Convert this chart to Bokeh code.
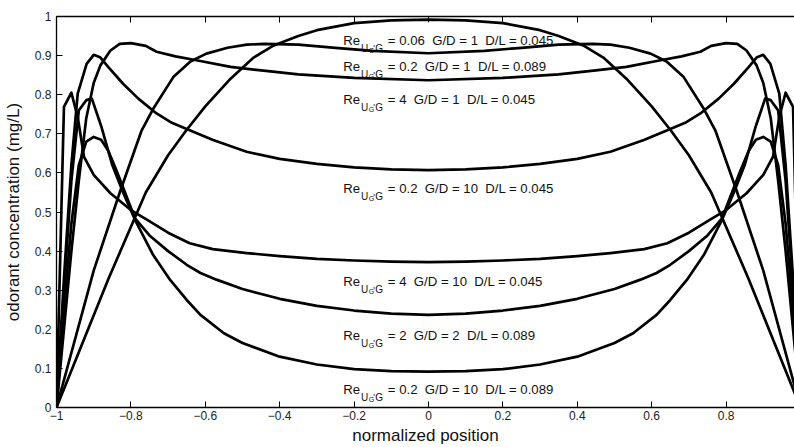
from bokeh.plotting import figure
from bokeh.models import LinearAxis, FixedTicker, CustomJSTickFormatter, Range1d, ColumnDataSource
from bokeh.core.properties import value
from bokeh.embed import file_html
from bokeh.resources import INLINE

FONT = "Liberation Sans"

# ---- data: left half of each (symmetric) profile ----
x_c1 = [-1, -0.93, -0.86, -0.76, -0.7, -0.651, -0.6, -0.532, -0.47, -0.416, -0.35, -0.3, -0.2, -0.1, 0]
y_c1 = [0, 0.165, 0.33, 0.55, 0.645, 0.709, 0.77, 0.841, 0.895, 0.926, 0.95, 0.965, 0.983, 0.99, 0.992]

x_c2 = [-1, -0.9, -0.83, -0.771, -0.74, -0.686, -0.64, -0.597, -0.54, -0.489, -0.44, -0.35, -0.25, -0.15, 0]
y_c2 = [0, 0.35, 0.55, 0.709, 0.764, 0.845, 0.885, 0.905, 0.92, 0.928, 0.93, 0.928, 0.92, 0.912, 0.906]

x_c3 = [-1, -0.98, -0.96, -0.94, -0.92, -0.9, -0.882, -0.855, -0.83, -0.8, -0.76, -0.731, -0.68, -0.624, -0.532, -0.45, -0.35, -0.2, 0]
y_c3 = [0, 0.2, 0.4, 0.58, 0.74, 0.83, 0.875, 0.913, 0.93, 0.932, 0.925, 0.91, 0.898, 0.888, 0.871, 0.862, 0.852, 0.843, 0.837]

x_c4 = [-1, -0.98, -0.96, -0.943, -0.919, -0.9, -0.883, -0.86, -0.821, -0.78, -0.731, -0.69, -0.642, -0.579, -0.489, -0.4, -0.3, -0.2, -0.1, 0]
y_c4 = [0, 0.33, 0.62, 0.803, 0.879, 0.902, 0.896, 0.87, 0.828, 0.79, 0.752, 0.728, 0.709, 0.684, 0.654, 0.636, 0.623, 0.614, 0.609, 0.607]

x_c5 = [-1, -0.98, -0.96, -0.943, -0.926, -0.9, -0.855, -0.8, -0.756, -0.7, -0.642, -0.58, -0.489, -0.4, -0.3, -0.2, -0.1, 0]
y_c5 = [0, 0.769, 0.805, 0.743, 0.641, 0.595, 0.548, 0.505, 0.48, 0.447, 0.42, 0.405, 0.395, 0.387, 0.38, 0.376, 0.373, 0.372]

x_c6 = [-1, -0.98, -0.96, -0.94, -0.92, -0.9, -0.88, -0.86, -0.839, -0.815, -0.789, -0.75, -0.7, -0.65, -0.613, -0.57, -0.5, -0.4, -0.3, -0.2, -0.1, 0]
y_c6 = [0, 0.25, 0.47, 0.62, 0.68, 0.692, 0.685, 0.655, 0.607, 0.548, 0.484, 0.44, 0.4, 0.365, 0.344, 0.327, 0.303, 0.278, 0.26, 0.248, 0.24, 0.237]

x_c7 = [-1, -0.98, -0.96, -0.94, -0.92, -0.905, -0.88, -0.85, -0.821, -0.789, -0.74, -0.695, -0.65, -0.613, -0.55, -0.5, -0.4, -0.3, -0.2, -0.1, 0]
y_c7 = [0, 0.3, 0.58, 0.76, 0.786, 0.79, 0.72, 0.62, 0.55, 0.48, 0.39, 0.327, 0.275, 0.237, 0.19, 0.165, 0.13, 0.11, 0.098, 0.093, 0.092]

# curve labels
label_re = ["0.06", "0.2", "4", "0.2", "4", "2", "0.2"]
label_gd = ["1", "1", "1", "10", "10", "2", "10"]
label_dl = ["0.045", "0.089", "0.045", "0.045", "0.045", "0.089", "0.089"]
label_x = [-0.229] * 7
label_y = [0.939, 0.871, 0.788, 0.559, 0.321, 0.184, 0.046]

x_ticks = [-1, -0.8, -0.6, -0.4, -0.2, 0, 0.2, 0.4, 0.6, 0.8]
y_ticks = [0, 0.1, 0.2, 0.3, 0.4, 0.5, 0.6, 0.7, 0.8, 0.9, 1]


def mirror(xs, ys):
    fx = list(xs) + [-v for v in reversed(xs[:-1])]
    fy = list(ys) + list(reversed(ys[:-1]))
    return fx, fy


p = figure(width=794, height=447, x_range=Range1d(-1, 0.9839), y_range=Range1d(0, 1),
           output_backend="svg", toolbar_location=None,
           min_border_left=56, min_border_right=0, min_border_top=16, min_border_bottom=39)
p.outline_line_color = None
p.xgrid.visible = False
p.ygrid.visible = False
p.background_fill_color = "white"
p.border_fill_color = "white"

fmt = CustomJSTickFormatter(code="""
const r = Math.round(tick*10)/10;
let s;
if (Math.abs(r - Math.round(r)) < 1e-9) { s = Math.round(r).toString(); } else { s = r.toFixed(1); }
return s.replace('-', '\u2212');
""")


def style_axis(ax):
    ax.axis_line_color = "black"
    ax.axis_line_width = 1.3
    ax.major_tick_in = 6
    ax.major_tick_out = 0
    ax.minor_tick_in = 0
    ax.minor_tick_out = 0
    ax.major_tick_line_color = "black"
    ax.major_tick_line_width = 1
    ax.major_label_text_font = FONT
    ax.major_label_text_font_size = "12px"
    ax.major_label_text_color = "#222222"
    ax.axis_label_text_font = FONT
    ax.axis_label_text_font_size = "17px"
    ax.axis_label_text_font_style = "normal"
    ax.axis_label_text_color = "#111111"
    ax.formatter = fmt


p.xaxis.ticker = FixedTicker(ticks=x_ticks)
p.yaxis.ticker = FixedTicker(ticks=y_ticks)
for ax in p.xaxis + p.yaxis:
    style_axis(ax)
p.xaxis.axis_label = "normalized position"
p.yaxis.axis_label = "odorant concentration (mg/L)"
p.xaxis.major_label_standoff = 3
p.xaxis.axis_label_standoff = 3
p.yaxis.major_label_standoff = 5
p.yaxis.axis_label_standoff = 9

top = LinearAxis(ticker=FixedTicker(ticks=x_ticks))
style_axis(top)
top.formatter = CustomJSTickFormatter(code="return '';")
top.major_label_standoff = 0
p.add_layout(top, "above")

for xs, ys in [(x_c1, y_c1), (x_c2, y_c2), (x_c3, y_c3), (x_c4, y_c4),
               (x_c5, y_c5), (x_c6, y_c6), (x_c7, y_c7)]:
    fx, fy = mirror(xs, ys)
    p.line(fx, fy, line_color="black", line_width=2.7, line_join="round")

SP = " \u00a0"
main_txt = ["=" + " " + r + SP + "G/D = " + g + SP + "D/L = " + d
            for r, g, d in zip(label_re, label_gd, label_dl)]
src = ColumnDataSource(dict(x=label_x, y=label_y, main=main_txt,
                            re=["Re"] * 7, u=["U"] * 7, g=["G"] * 7, pr=["'"] * 7))

pieces = [("re", "13.2px", 0, 0), ("u", "10px", 17.8, 7.7), ("g", "7px", 25.5, 9.8),
          ("pr", "9px", 30.0, 7.7), ("g", "10px", 32.0, 7.7), ("main", "13.2px", 44.5, 0)]
for col, size, dx, dy in pieces:
    p.text(x="x", y="y", text=col, source=src, x_offset=dx, y_offset=dy,
           text_font=value(FONT), text_font_size=size, text_color="#111111",
           text_align="left", text_baseline="alphabetic")

open("out.html", "w").write(file_html(p, INLINE))
